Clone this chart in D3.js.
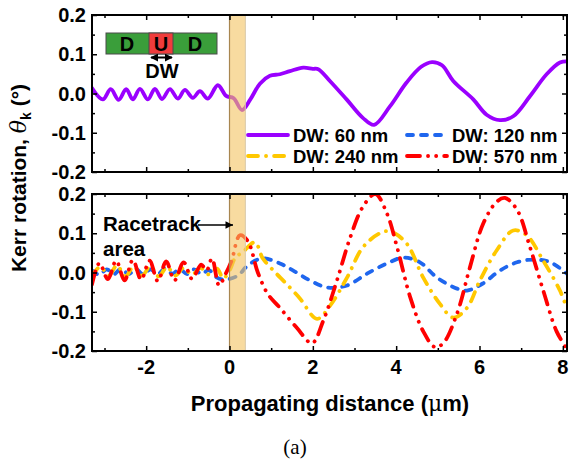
<!DOCTYPE html>
<html>
<head>
<meta charset="utf-8">
<script src="https://cdn.jsdelivr.net/npm/d3@7/dist/d3.min.js"></script>
<style>
  html, body { margin: 0; padding: 0; background: #fff; }
  svg { display: block; }
</style>
</head>
<body>
<svg id="chart" width="571" height="459" font-family="Liberation Sans, Arial, Helvetica, sans-serif" font-weight="bold"></svg>
<script>
// ---------------- data ----------------
const xDomain = [-3.3, 8.1];
const yDomain = [-0.2, 0.2];
const xTickLabels = [-2, 0, 2, 4, 6, 8];
const xMinorTicks = [-3, -1, 1, 3, 5, 7];
const yTickLabels = [-0.2, -0.1, 0.0, 0.1, 0.2];
const yMinorTicks = [-0.15, -0.05, 0.05, 0.15];
const seriesNames = ["DW: 60 nm", "DW: 120 nm", "DW: 240 nm", "DW: 570 nm"];
const racetrackArea = [0, 0.38];

// top panel, DW 60 nm
const dw60X = [-3.30, -3.04, -2.85, -2.66, -2.48, -2.32, -2.15, -1.96, -1.79, -1.62, -1.43, -1.24, -1.07, -0.88, -0.71, -0.52, -0.28, -0.08,
  0.10, 0.30, 0.50, 0.73, 0.97, 1.21, 1.45, 1.77, 2.00, 2.13, 2.41, 2.81, 3.20, 3.47, 3.85, 4.25, 4.60, 4.86, 5.10, 5.37, 5.85, 6.17, 6.49, 6.81, 7.21, 7.61, 7.93, 8.10];
const dw60Y = [0.014, -0.015, 0.011, -0.016, 0.011, -0.015, 0.012, -0.015, 0.012, -0.014, 0.011, -0.013, 0.009, -0.011, 0.006, -0.013, 0.021, -0.006,
  -0.012, -0.042, -0.015, 0.025, 0.045, 0.049, 0.057, 0.066, 0.063, 0.062, 0.032, -0.015, -0.062, -0.080, -0.033, 0.028, 0.068, 0.080, 0.072, 0.032, -0.015, -0.054, -0.068, -0.058, -0.007, 0.049, 0.079, 0.082];

// bottom panel, DW 120 nm
const dw120X = [-3.30, -3.12, -2.95, -2.77, -2.60, -2.42, -2.25, -2.07, -1.90, -1.72, -1.55, -1.37, -1.20, -1.02, -0.85, -0.67, -0.50, -0.30, -0.10,
  0.20, 0.44, 0.78, 1.21, 1.53, 1.93, 2.34, 2.82, 3.30, 3.78, 4.17, 4.57, 4.98, 5.46, 5.70, 6.08, 6.49, 6.90, 7.30, 7.70, 8.10];
const dw120Y = [0.005, -0.006, 0.008, -0.004, 0.010, -0.004, 0.009, -0.005, 0.008, -0.004, 0.010, -0.003, 0.009, -0.004, 0.008, -0.004, 0.006, -0.013, -0.018,
  -0.008, 0.018, 0.036, 0.023, 0.005, -0.020, -0.038, -0.033, -0.003, 0.023, 0.038, 0.026, -0.013, -0.041, -0.046, -0.028, 0.005, 0.026, 0.033, 0.026, -0.003];

// bottom panel, DW 240 nm
const dw240X = [-3.30, -3.10, -2.90, -2.70, -2.50, -2.30, -2.10, -1.90, -1.70, -1.50, -1.30, -1.10, -0.90, -0.70, -0.50, -0.30, -0.15, 0.00,
  0.15, 0.30, 0.61, 0.80, 1.10, 1.33, 1.69, 2.10, 2.41, 2.82, 3.20, 3.61, 3.85, 4.25, 4.65, 5.05, 5.37, 5.70, 6.01, 6.41, 6.81, 7.13, 7.53, 7.93, 8.10];
const dw240Y = [-0.010, 0.015, -0.008, 0.018, -0.010, 0.015, -0.008, 0.016, -0.010, 0.014, -0.008, 0.012, -0.006, 0.012, -0.005, 0.010, -0.015, 0.005,
  0.040, 0.050, 0.077, 0.036, 0.000, -0.025, -0.066, -0.118, -0.085, -0.013, 0.064, 0.100, 0.105, 0.074, -0.013, -0.080, -0.115, -0.090, -0.020, 0.056, 0.107, 0.095, 0.030, -0.046, -0.092];

// bottom panel, DW 570 nm
const dw570X = [-3.30, -3.12, -2.92, -2.72, -2.52, -2.32, -2.12, -1.92, -1.72, -1.52, -1.32, -1.10, -0.90, -0.68, -0.55, -0.42, -0.25, -0.10,
  0.05, 0.25, 0.44, 0.68, 0.92, 1.21, 1.61, 1.98, 2.25, 2.58, 2.90, 3.20, 3.50, 3.78, 4.02, 4.34, 4.65, 4.93, 5.13, 5.46, 5.77, 6.09, 6.41, 6.61, 6.90, 7.21, 7.53, 7.85, 8.10];
const dw570Y = [-0.030, 0.024, -0.017, 0.030, -0.020, 0.032, -0.018, 0.030, -0.022, 0.028, -0.020, 0.026, -0.016, 0.020, 0.005, 0.036, -0.033, -0.005,
  0.030, 0.095, 0.080, 0.000, -0.055, -0.090, -0.140, -0.180, -0.123, -0.020, 0.090, 0.167, 0.200, 0.150, 0.065, -0.064, -0.150, -0.190, -0.180, -0.105, 0.013, 0.125, 0.180, 0.190, 0.160, 0.065, -0.046, -0.150, -0.195];

// ---------------- layout ----------------
const svg = d3.select("#chart");
const left = 92, right = 567;
const panels = [
  { top: 15, bottom: 172 },
  { top: 194, bottom: 351 }
];
const x = d3.scaleLinear().domain(xDomain).range([left, right]);

const styles = [
  { color: "#9a00ff", dash: null },
  { color: "#1f66ee", dash: "6,8" },
  { color: "#ffc800", dash: "10,8,0.1,8" },
  { color: "#ff0000", dash: "13,8,0.1,8,0.1,8" }
];

const defs = svg.append("defs");
defs.append("marker").attr("id", "ah").attr("viewBox", "0 0 10 10").attr("refX", 9).attr("refY", 5)
  .attr("markerWidth", 4).attr("markerHeight", 4).attr("orient", "auto-start-reverse")
  .append("path").attr("d", "M0,0 L10,5 L0,10 z").attr("fill", "#000");
defs.append("marker").attr("id", "ah2").attr("viewBox", "0 0 10 10").attr("refX", 10).attr("refY", 5)
  .attr("markerWidth", 7.5).attr("markerHeight", 5).attr("markerUnits", "strokeWidth").attr("orient", "auto")
  .append("path").attr("d", "M0,0 L10,5 L0,10 z").attr("fill", "#000");

function drawPanel(p, idx, series) {
  const y = d3.scaleLinear().domain(yDomain).range([p.bottom, p.top]);
  const clipId = "clip" + idx;
  defs.append("clipPath").attr("id", clipId)
    .append("rect").attr("x", left).attr("y", p.top).attr("width", right - left).attr("height", p.bottom - p.top);

  const g = svg.append("g");
  const line = d3.line().x(d => x(d[0])).y(d => y(d[1])).curve(d3.curveCatmullRom.alpha(0.5));
  const lg = g.append("g").attr("clip-path", `url(#${clipId})`);
  series.forEach(s => {
    const pts = s.xs.map((v, i) => [v, s.ys[i]]);
    lg.append("path").datum(pts)
      .attr("d", line)
      .attr("fill", "none")
      .attr("stroke", styles[s.k].color)
      .attr("stroke-width", 3.8)
      .attr("stroke-linecap", "round")
      .attr("stroke-linejoin", "round")
      .attr("stroke-dasharray", styles[s.k].dash);
  });

  // racetrack band (over lines)
  g.append("rect")
    .attr("x", x(racetrackArea[0])).attr("y", p.top)
    .attr("width", x(racetrackArea[1]) - x(racetrackArea[0]))
    .attr("height", p.bottom - p.top)
    .attr("fill", "#f3c361").attr("fill-opacity", 0.6);
  g.append("line").attr("x1", x(racetrackArea[0])).attr("x2", x(racetrackArea[0]))
    .attr("y1", p.top).attr("y2", p.bottom).attr("stroke", "#a88650").attr("stroke-width", 1.2);
  g.append("line").attr("x1", x(racetrackArea[1])).attr("x2", x(racetrackArea[1]))
    .attr("y1", p.top).attr("y2", p.bottom).attr("stroke", "#d8c8a8").attr("stroke-width", 1);

  // axes with inward ticks on all sides
  const mk = (axisFn, scale, vals, size) => axisFn(scale).tickValues(vals).tickSizeInner(-size).tickSizeOuter(0).tickFormat("");
  const axes = [
    { a: mk(d3.axisBottom, x, xTickLabels, 5), t: `translate(0,${p.bottom})` },
    { a: mk(d3.axisBottom, x, xMinorTicks, 3), t: `translate(0,${p.bottom})` },
    { a: mk(d3.axisTop, x, xTickLabels, 5), t: `translate(0,${p.top})` },
    { a: mk(d3.axisTop, x, xMinorTicks, 3), t: `translate(0,${p.top})` },
    { a: mk(d3.axisLeft, y, yTickLabels, 5), t: `translate(${left},0)` },
    { a: mk(d3.axisLeft, y, yMinorTicks, 3), t: `translate(${left},0)` },
    { a: mk(d3.axisRight, y, yTickLabels, 5), t: `translate(${right},0)` },
    { a: mk(d3.axisRight, y, yMinorTicks, 3), t: `translate(${right},0)` }
  ];
  axes.forEach(ax => {
    const ag = g.append("g").attr("transform", ax.t).call(ax.a);
    ag.attr("font-family", null).attr("font-size", null);
    ag.select(".domain").remove();
    ag.selectAll(".tick line").attr("stroke", "#000").attr("stroke-width", 1.5);
  });

  // frame
  g.append("rect").attr("x", left).attr("y", p.top).attr("width", right - left).attr("height", p.bottom - p.top)
    .attr("fill", "none").attr("stroke", "#000").attr("stroke-width", 2);

  // y tick labels
  const fmt = d3.format(".1f");
  g.selectAll(".ylab").data(yTickLabels).enter().append("text")
    .attr("x", left - 6).attr("y", d => y(d) + 7)
    .attr("text-anchor", "end").attr("font-size", 20)
    .text(d => fmt(d).replace("−", "-"));
  return y;
}

drawPanel(panels[0], 0, [{ k: 0, xs: dw60X, ys: dw60Y }]);
drawPanel(panels[1], 1, [
  { k: 1, xs: dw120X, ys: dw120Y },
  { k: 2, xs: dw240X, ys: dw240Y },
  { k: 3, xs: dw570X, ys: dw570Y }
]);

// x tick labels under bottom panel
svg.selectAll(".xlab").data(xTickLabels).enter().append("text")
  .attr("x", d => x(d)).attr("y", 374)
  .attr("text-anchor", "middle").attr("font-size", 20)
  .text(d => String(d));

// legend in top panel
const legendItems = [
  { k: 0, x0: 248, y0: 135 },
  { k: 1, x0: 407, y0: 135 },
  { k: 2, x0: 248, y0: 156 },
  { k: 3, x0: 407, y0: 156 }
];
legendItems.forEach(it => {
  svg.append("line").attr("x1", it.x0).attr("x2", it.x0 + 40).attr("y1", it.y0).attr("y2", it.y0)
    .attr("stroke", styles[it.k].color).attr("stroke-width", 3.8).attr("stroke-linecap", "round")
    .attr("stroke-dasharray", styles[it.k].dash);
  svg.append("text").attr("x", it.x0 + 45).attr("y", it.y0 + 7).attr("font-size", 18.5).text(seriesNames[it.k]);
});

// inset domain diagram
const inset = svg.append("g");
inset.append("rect").attr("x", 106).attr("y", 33).attr("width", 111).attr("height", 21)
  .attr("fill", "#3a9e3a").attr("stroke", "#4a4a4a").attr("stroke-width", 1);
inset.append("rect").attr("x", 149).attr("y", 33).attr("width", 24).attr("height", 21)
  .attr("fill", "#f03c3c").attr("stroke", "#4a4a4a").attr("stroke-width", 1);
[["D", 127], ["U", 161], ["D", 195]].forEach(([t, cx]) => {
  inset.append("text").attr("x", cx).attr("y", 51).attr("text-anchor", "middle").attr("font-size", 20).text(t);
});
inset.append("line").attr("x1", 151).attr("x2", 172).attr("y1", 57.5).attr("y2", 57.5)
  .attr("stroke", "#000").attr("stroke-width", 2)
  .attr("marker-start", "url(#ah)").attr("marker-end", "url(#ah)");
inset.append("text").attr("x", 162).attr("y", 78).attr("text-anchor", "middle").attr("font-size", 20).text("DW");

// racetrack annotation
svg.append("text").attr("x", 103).attr("y", 231).attr("font-size", 20.5).text("Racetrack");
svg.append("text").attr("x", 103).attr("y", 256).attr("font-size", 20.5).text("area");
svg.append("line").attr("x1", 198).attr("x2", 233).attr("y1", 225).attr("y2", 225)
  .attr("stroke", "#000").attr("stroke-width", 1.5).attr("marker-end", "url(#ah2)");

// axis titles
const yl = svg.append("text").attr("transform", "translate(26,178) rotate(-90)")
  .attr("text-anchor", "middle").attr("font-size", 21);
yl.append("tspan").text("Kerr rotation, ");
yl.append("tspan").attr("font-style", "italic").attr("font-family", "DejaVu Serif, serif").attr("font-weight", "normal").attr("font-size", 22).text("θ");
yl.append("tspan").attr("font-size", 14).attr("dy", 5).text("k");
yl.append("tspan").attr("dy", -5).text(" (°)");

const xl = svg.append("text").attr("x", 330).attr("y", 411).attr("text-anchor", "middle").attr("font-size", 22);
xl.append("tspan").text("Propagating distance (");
xl.append("tspan").attr("font-family", "DejaVu Serif, serif").attr("font-weight", "normal").text("μ");
xl.append("tspan").text("m)");

svg.append("text").attr("x", 295).attr("y", 454).attr("text-anchor", "middle")
  .attr("font-family", "Liberation Serif, DejaVu Serif, serif").attr("font-weight", "normal").attr("font-size", 21).text("(a)");
</script>
</body>
</html>
